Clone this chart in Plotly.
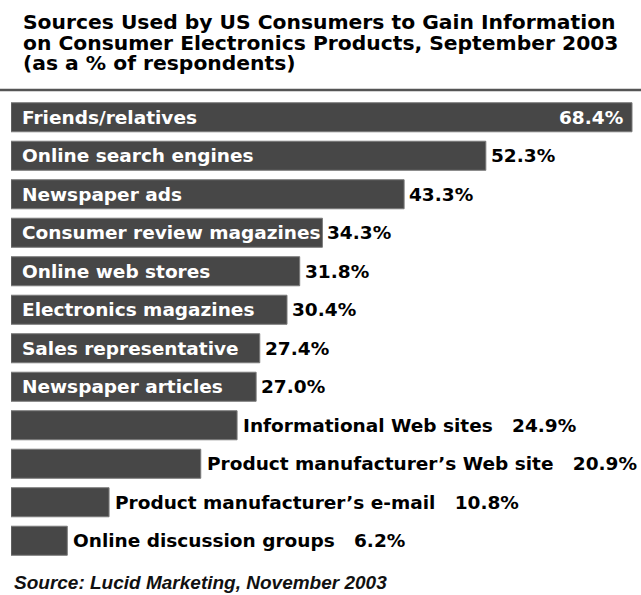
import plotly.graph_objects as go

categories = [
    "Friends/relatives",
    "Online search engines",
    "Newspaper ads",
    "Consumer review magazines",
    "Online web stores",
    "Electronics magazines",
    "Sales representative",
    "Newspaper articles",
    "Informational Web sites",
    "Product manufacturer\u2019s Web site",
    "Product manufacturer\u2019s e-mail",
    "Online discussion groups",
]
values = [68.4, 52.3, 43.3, 34.3, 31.8, 30.4, 27.4, 27.0, 24.9, 20.9, 10.8, 6.2]
value_labels = ["68.4%", "52.3%", "43.3%", "34.3%", "31.8%", "30.4%", "27.4%",
                "27.0%", "24.9%", "20.9%", "10.8%", "6.2%"]
title_lines = [
    "Sources Used by US Consumers to Gain Information",
    "on Consumer Electronics Products, September 2003",
    "(as a % of respondents)",
]
source_text = "Source: Lucid Marketing, November 2003"

W, H = 641, 595
ML, MR, MT, MB = 11, 0, 98, 35
PW = W - ML - MR
PH = H - MT - MB
px_per_unit = 621 / 68.4
xmax = PW / px_per_unit

BOLD = "DejaVu Sans"
FS = 18.5
BAR = "#474747"

def py(p):
    return (H - MB - p) / PH

def px(p):
    return (p - ML) / PW

fig = go.Figure()
fig.add_trace(go.Bar(
    x=values, y=categories, orientation="h",
    marker=dict(color=BAR, line=dict(color="#7a7a7a", width=1)),
    width=0.755, hoverinfo="skip",
))

ann = []
n_inside = 8
for i, (c, v, vl) in enumerate(zip(categories, values, value_labels)):
    if i < n_inside:
        ann.append(dict(x=0, y=c, xref="x", yref="y", text="<b>%s</b>" % c,
                        showarrow=False, xanchor="left", xshift=9,
                        font=dict(family=BOLD, size=FS, color="white")))
        if i == 0:
            ann.append(dict(x=v, y=c, xref="x", yref="y", text="<b>%s</b>" % vl,
                            showarrow=False, xanchor="right", xshift=-7,
                            font=dict(family=BOLD, size=FS, color="white")))
        else:
            ann.append(dict(x=v, y=c, xref="x", yref="y", text="<b>%s</b>" % vl,
                            showarrow=False, xanchor="left", xshift=3,
                            font=dict(family=BOLD, size=FS, color="black")))
    else:
        ann.append(dict(x=v, y=c, xref="x", yref="y",
                        text="<b>%s&nbsp;&nbsp;&nbsp;%s</b>" % (c, vl),
                        showarrow=False, xanchor="left", xshift=4,
                        font=dict(family=BOLD, size=FS, color="black")))

title_mid = [22.5, 42.5, 63]
for t, m in zip(title_lines, title_mid):
    ann.append(dict(x=px(21), y=py(m), xref="paper", yref="paper",
                    text="<b>%s</b>" % t, showarrow=False,
                    xanchor="left", yanchor="middle",
                    font=dict(family=BOLD, size=20.3, color="black")))

ann.append(dict(x=px(12), y=py(582), xref="paper", yref="paper",
                text="<b><i>%s</i></b>" % source_text, showarrow=False,
                xanchor="left", yanchor="middle",
                font=dict(family="Liberation Sans", size=19, color="#111")))

fig.update_layout(
    width=W, height=H,
    margin=dict(l=ML, r=MR, t=MT, b=MB),
    paper_bgcolor="white", plot_bgcolor="white",
    showlegend=False,
    annotations=ann,
    xaxis=dict(range=[0, xmax], visible=False, fixedrange=True),
    yaxis=dict(categoryorder="array", categoryarray=categories,
               autorange="reversed", visible=False, fixedrange=True),
    shapes=[dict(type="line", xref="paper", yref="paper",
                 x0=px(0), x1=px(W), y0=py(90), y1=py(90),
                 line=dict(color="#555555", width=2.5))],
)

fig.write_html("out.html")
